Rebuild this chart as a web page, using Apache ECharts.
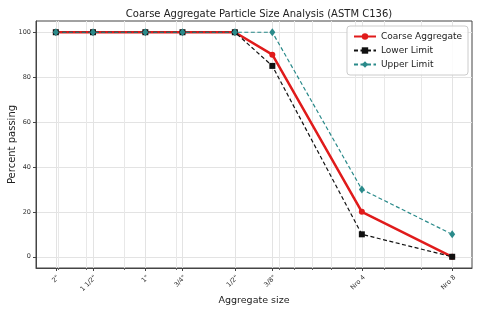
<!DOCTYPE html>
<html><head><meta charset="utf-8">
<script src="https://cdn.jsdelivr.net/npm/echarts@6/dist/echarts.min.js"></script>
<style>html,body{margin:0;padding:0;background:#fff}#c{width:480px;height:315px}</style>
</head><body><div id="c"></div>
<script>
// Sieve sizes (mm) and their labels
const sieveLabels = ['2"', '1 1/2"', '1"', '3/4"', '1/2"', '3/8"', 'Nro 4', 'Nro 8'];
const sieveSizes = [50.8, 38.1, 25.4, 19.05, 12.7, 9.5, 4.75, 2.36];
const coarse = [100, 100, 100, 100, 100, 90, 20, 0];
const lowerLimit = [100, 100, 100, 100, 100, 85, 10, 0];
const upperLimit = [100, 100, 100, 100, 100, 100, 30, 10];
const yTicks = [0, 20, 40, 60, 80, 100];
const minorGrid = [50, 40, 30, 20, 9, 8, 7, 6, 5, 4, 3];

const lx = sieveSizes.map(Math.log);
const lo = Math.log(Math.min(...sieveSizes)), hi = Math.log(Math.max(...sieveSizes));
const pad = (hi - lo) * 0.05;
const xMin = lo - pad, xMax = hi + pad;
const pts = arr => arr.map((v, i) => [lx[i], v]);
const font = 'DejaVu Sans';

const chart = echarts.init(document.getElementById('c'), null, {renderer: 'canvas'});
chart.setOption({
  animation: false,
  backgroundColor: '#fff',
  title: {
    text: 'Coarse Aggregate Particle Size Analysis (ASTM C136)',
    left: 254, textAlign: 'center', top: 4,
    textStyle: {fontFamily: font, fontSize: 10, fontWeight: 'normal', color: '#222'}
  },
  grid: {left: 36, right: 8, top: 21, bottom: 47, show: true, borderColor: '#444', borderWidth: 1,
         outerBoundsMode: 'none', containLabel: false},
  legend: {
    orient: 'vertical', right: 12, top: 26,
    borderColor: '#ccc', borderWidth: 1, borderRadius: 3, backgroundColor: 'rgba(255,255,255,0.85)',
    padding: [6, 6, 6, 6], itemGap: 5, itemWidth: 22, itemHeight: 8,
    textStyle: {fontFamily: font, fontSize: 9, color: '#222'},
    data: ['Coarse Aggregate', 'Lower Limit', 'Upper Limit']
  },
  xAxis: [{
    type: 'value', inverse: true, min: xMin, max: xMax,
    name: 'Aggregate size', nameLocation: 'middle', nameGap: 28, nameMoveOverlap: false,
    nameTextStyle: {fontFamily: font, fontSize: 9.5, color: '#222'},
    axisLine: {show: true, onZero: false, lineStyle: {color: '#444'}},
    axisTick: {show: true, length: 3, customValues: lx, lineStyle: {color: '#444'}},
    axisLabel: {
      customValues: lx, rotate: 45, fontFamily: font, fontSize: 6.5, color: '#333', margin: 6,
      verticalAlign: 'top',
      formatter: v => {
        let best = 0;
        lx.forEach((x, i) => { if (Math.abs(x - v) < Math.abs(lx[best] - v)) best = i; });
        return sieveLabels[best];
      }
    },
    splitLine: {show: true, lineStyle: {color: '#e3e3e3', width: 1}}
  }, {
    type: 'value', inverse: true, min: xMin, max: xMax, position: 'bottom',
    axisLine: {show: false, onZero: false}, axisLabel: {show: false},
    axisTick: {show: true, length: 2, customValues: minorGrid.map(Math.log), lineStyle: {color: '#666'}},
    splitLine: {show: true, lineStyle: {color: '#e8e8e8', width: 1}}
  }],
  yAxis: {
    type: 'value', min: -5, max: 105,
    name: 'Percent passing', nameLocation: 'middle', nameGap: 19, nameMoveOverlap: false,
    nameTextStyle: {fontFamily: font, fontSize: 10, color: '#222'},
    axisLine: {show: true, onZero: false, lineStyle: {color: '#444'}},
    axisTick: {show: true, length: 3, customValues: yTicks, lineStyle: {color: '#444'}},
    axisLabel: {customValues: yTicks, fontFamily: font, fontSize: 6.5, color: '#333', margin: 5},
    splitLine: {show: true, lineStyle: {color: '#e3e3e3', width: 1}}
  },
  series: [{
    name: 'Coarse Aggregate', type: 'line', xAxisIndex: 0, data: pts(coarse),
    symbol: 'circle', symbolSize: 6,
    lineStyle: {color: '#e01b1b', width: 2.5}, itemStyle: {color: '#e01b1b'}
  }, {
    name: 'Lower Limit', type: 'line', xAxisIndex: 0, data: pts(lowerLimit),
    symbol: 'rect', symbolSize: 6,
    lineStyle: {color: '#111', width: 1.2, type: [4, 2.5]}, itemStyle: {color: '#111'}
  }, {
    name: 'Upper Limit', type: 'line', xAxisIndex: 0, data: pts(upperLimit),
    symbol: 'diamond', symbolSize: [6, 8],
    lineStyle: {color: '#2a8a8a', width: 1.2, type: [4, 2.5]}, itemStyle: {color: '#2a8a8a'}
  }]
});
</script></body></html>
